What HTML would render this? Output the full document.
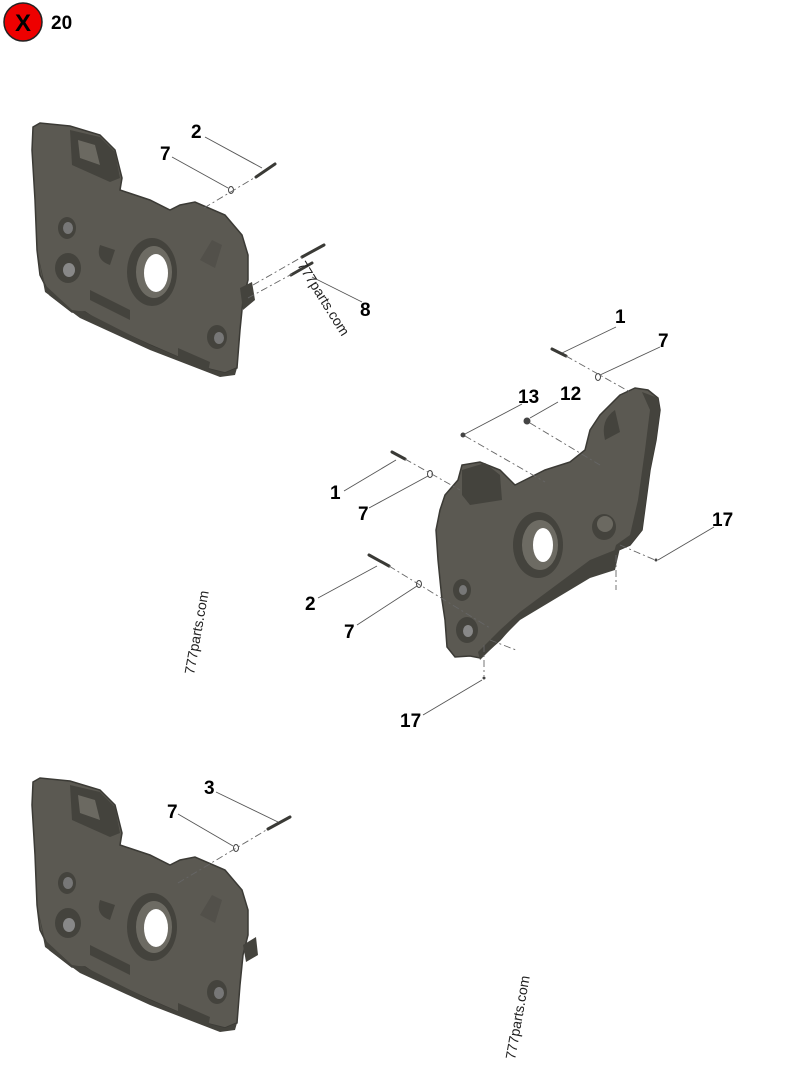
<!DOCTYPE html>
<html><head><meta charset="utf-8"><style>
html,body{margin:0;padding:0;background:#fff;}
svg{display:block;}
text{font-family:"Liberation Sans",sans-serif;}
.n{font-size:19px;font-weight:bold;fill:#000;}
.w{font-size:14px;fill:#222;}
.l{stroke:#555;stroke-width:0.9;fill:none;}
.d{stroke:#666;stroke-width:0.9;fill:none;stroke-dasharray:7 3 2 3;}
.b{stroke:#3a3a36;stroke-width:3;stroke-linecap:round;}
.h{fill:#5b5952;stroke:#3b3a35;stroke-width:1.5;}
.k{fill:#44433d;}
.s{fill:#6b6961;}
</style></head><body>
<svg width="800" height="1067" viewBox="0 0 800 1067" xmlns="http://www.w3.org/2000/svg">
<!-- icon -->
<circle cx="23" cy="22" r="19" fill="#ee0000" stroke="#222" stroke-width="1.5"/>
<text x="23" y="31" text-anchor="middle" style="font-size:24px;font-weight:bold">X</text>
<text x="51" y="29" class="n">20</text>

<defs>
<g id="hs">
<path class="h" d="M33,127 L40,123 L70,126 L100,135 L115,150 L122,178 L120,190 L150,200 L170,210 L180,205 L195,202 L225,215 L242,235 L248,255 L248,280 L243,300 L240,330 L237,368 L225,373 L205,368 L180,358 L150,345 L100,322 L85,312 L72,312 L50,295 L40,275 L37,250 L35,200 L32,150 Z"/>
<path class="k" d="M70,130 L100,137 L115,152 L120,178 L110,182 L72,165 Z"/>
<path class="s" d="M78,140 L95,145 L100,165 L80,158 Z"/>
<path class="k" d="M37,250 L45,285 L72,310 L85,312 L150,345 L205,368 L225,373 L237,368 L235,375 L220,377 L150,350 L80,318 L45,292 Z"/>
<path class="k" d="M90,290 L130,310 L130,320 L90,300 Z"/>
<path class="k" d="M178,348 L210,362 L208,372 L178,360 Z"/>
<ellipse cx="152" cy="272" rx="25" ry="34" class="k"/>
<ellipse cx="154" cy="272" rx="18" ry="26" fill="#6d6b63"/>
<ellipse cx="156" cy="273" rx="12" ry="19" fill="#fff"/>
<ellipse cx="67" cy="228" rx="9" ry="11" class="k"/>
<ellipse cx="68" cy="228" rx="5" ry="6" fill="#777"/>
<ellipse cx="68" cy="268" rx="13" ry="15" class="k"/>
<ellipse cx="69" cy="270" rx="6" ry="7" fill="#888"/>
<ellipse cx="217" cy="337" rx="10" ry="12" class="k"/>
<ellipse cx="219" cy="338" rx="5" ry="6" fill="#777"/>
<path class="k" d="M100,245 Q95,260 110,265 L115,250 Z"/>
<path d="M200,260 L212,240 L222,245 L215,268 Z" fill="#52504a"/>
</g>
</defs>

<!-- top-left housing -->
<use href="#hs"/>
<path class="k" d="M240,288 L252,282 L255,300 L243,310 Z"/>
<!-- bottom housing -->
<use href="#hs" transform="translate(0,655)"/>
<path class="k" d="M243,945 L256,937 L258,955 L246,962 Z"/>

<!-- middle housing -->
<path class="h" d="M620,395 L635,388 L648,390 L658,398 L660,410 L656,440 L650,470 L642,530 L630,545 L614,552 L605,565 L590,575 L520,617 L500,640 L480,658 L470,656 L455,657 L447,647 L445,620 L442,600 L438,560 L436,530 L440,510 L445,495 L458,480 L462,465 L480,462 L500,470 L515,485 L525,480 L545,470 L570,462 L585,450 L590,430 L600,415 Z"/>
<path class="k" d="M642,392 L658,398 L660,410 L656,440 L650,470 L642,530 L630,545 L614,552 L616,545 L630,535 L638,500 L645,450 L650,410 Z"/>
<path class="k" d="M462,470 L485,463 L500,475 L502,500 L470,505 L462,495 Z"/>
<path class="k" d="M590,560 L620,548 L615,570 L590,578 L520,620 L500,640 L480,660 L478,652 L500,630 L520,612 Z"/>
<ellipse cx="538" cy="545" rx="25" ry="33" class="k"/>
<ellipse cx="540" cy="545" rx="18" ry="25" fill="#6d6b63"/>
<ellipse cx="543" cy="545" rx="10" ry="17" fill="#fff"/>
<ellipse cx="604" cy="527" rx="12" ry="13" class="k"/>
<ellipse cx="605" cy="524" rx="8" ry="8" fill="#6b6961"/>
<ellipse cx="462" cy="590" rx="9" ry="11" class="k"/>
<ellipse cx="463" cy="590" rx="4" ry="5" fill="#777"/>
<ellipse cx="467" cy="630" rx="11" ry="13" class="k"/>
<ellipse cx="468" cy="631" rx="5" ry="6" fill="#888"/>
<path class="k" d="M615,410 Q600,420 605,440 L620,432 Z"/>

<!-- top-left annotations -->
<text x="191" y="138" class="n">2</text>
<line class="l" x1="205" y1="137" x2="262" y2="168"/>
<line class="b" x1="256" y1="177" x2="275" y2="164"/>
<text x="160" y="160" class="n">7</text>
<line class="l" x1="172" y1="157" x2="228" y2="188"/>
<ellipse cx="231" cy="190" rx="2.5" ry="3.5" fill="none" stroke="#444"/>
<line class="d" x1="204" y1="208" x2="254" y2="178"/>
<line class="b" x1="302" y1="257" x2="324" y2="245"/>
<line class="b" x1="291" y1="275" x2="312" y2="263"/>
<line class="d" x1="253" y1="285" x2="302" y2="257"/>
<line class="d" x1="248" y1="298" x2="292" y2="274"/>
<line class="l" x1="312" y1="277" x2="362" y2="302"/>
<text x="360" y="316" class="n">8</text>
<text class="w" transform="translate(297,265) rotate(58)">777parts.com</text>

<!-- middle annotations -->
<text x="615" y="323" class="n">1</text>
<line class="l" x1="616" y1="327" x2="562" y2="353"/>
<line class="b" x1="552" y1="349" x2="566" y2="356"/>
<text x="658" y="347" class="n">7</text>
<line class="l" x1="660" y1="347" x2="600" y2="375"/>
<ellipse cx="598" cy="377" rx="2.5" ry="3.5" fill="none" stroke="#444"/>
<line class="d" x1="566" y1="356" x2="630" y2="392"/>
<text x="518" y="403" class="n">13</text>
<line class="l" x1="522" y1="404" x2="465" y2="434"/>
<circle cx="463" cy="435" r="2.5" fill="#444"/>
<text x="560" y="400" class="n">12</text>
<line class="l" x1="558" y1="402" x2="530" y2="418"/>
<circle cx="527" cy="421" r="3.5" fill="#444"/>
<line class="d" x1="465" y1="436" x2="545" y2="482"/>
<line class="d" x1="530" y1="423" x2="600" y2="465"/>
<text x="330" y="499" class="n">1</text>
<line class="l" x1="344" y1="491" x2="396" y2="460"/>
<line class="b" x1="392" y1="452" x2="405" y2="459"/>
<text x="358" y="520" class="n">7</text>
<line class="l" x1="369" y1="508" x2="428" y2="476"/>
<ellipse cx="430" cy="474" rx="2.5" ry="3.5" fill="none" stroke="#444"/>
<line class="d" x1="405" y1="459" x2="460" y2="490"/>
<text x="305" y="610" class="n">2</text>
<line class="l" x1="318" y1="598" x2="377" y2="566"/>
<line class="b" x1="369" y1="555" x2="389" y2="566"/>
<text x="344" y="638" class="n">7</text>
<line class="l" x1="357" y1="625" x2="417" y2="586"/>
<ellipse cx="419" cy="584" rx="2.5" ry="3.5" fill="none" stroke="#444"/>
<line class="d" x1="389" y1="566" x2="490" y2="628"/>
<line class="d" x1="490" y1="640" x2="516" y2="650"/>
<text x="712" y="526" class="n">17</text>
<line class="l" x1="714" y1="527" x2="658" y2="560"/>
<circle cx="656" cy="560" r="1.5" fill="#444"/>
<line class="d" x1="620" y1="545" x2="655" y2="560"/>
<line class="d" x1="616" y1="555" x2="616" y2="590"/>
<text x="400" y="727" class="n">17</text>
<line class="l" x1="423" y1="715" x2="482" y2="680"/>
<circle cx="484" cy="678" r="1.5" fill="#444"/>
<line class="d" x1="484" y1="645" x2="484" y2="676"/>
<text class="w" transform="translate(194,675) rotate(-80)">777parts.com</text>

<!-- bottom annotations -->
<text x="204" y="794" class="n">3</text>
<line class="l" x1="216" y1="792" x2="278" y2="822"/>
<line class="b" x1="268" y1="829" x2="290" y2="817"/>
<text x="167" y="818" class="n">7</text>
<line class="l" x1="178" y1="814" x2="233" y2="846"/>
<ellipse cx="236" cy="848" rx="2.5" ry="3.5" fill="none" stroke="#444"/>
<line class="d" x1="178" y1="883" x2="268" y2="829"/>
<text class="w" transform="translate(515,1060) rotate(-80)">777parts.com</text>
</svg>
</body></html>
